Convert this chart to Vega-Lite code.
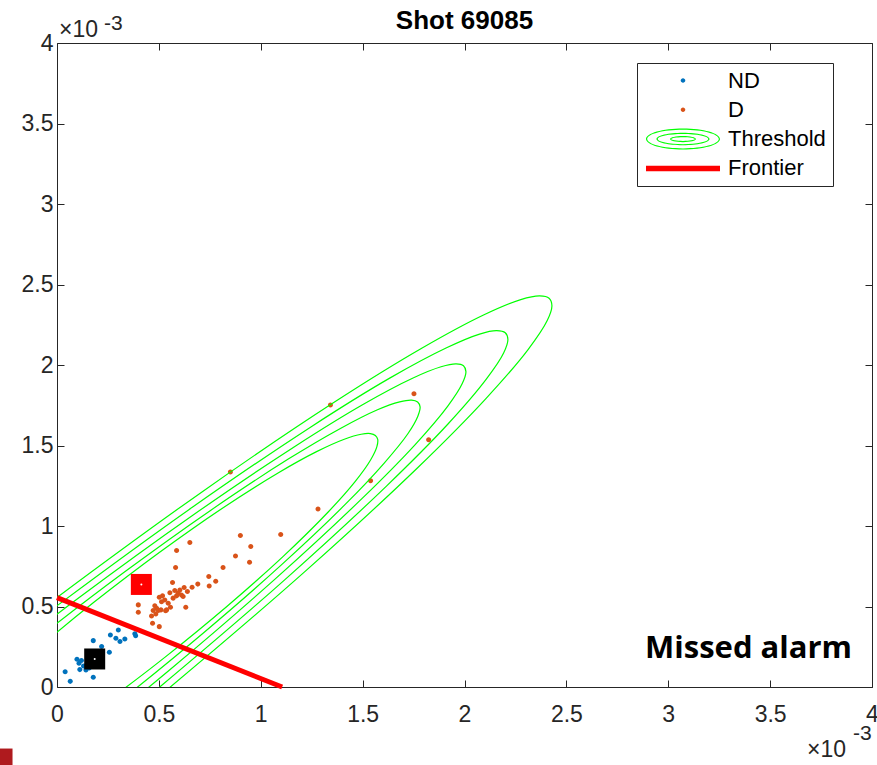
{
  "$schema": "https://vega.github.io/schema/vega-lite/v6.json",
  "width": 815,
  "height": 644,
  "autosize": {"type": "none"},
  "padding": {"left": 57, "top": 43, "right": 5, "bottom": 78},
  "background": "white",
  "title": {"text": "Shot 69085", "font": "Liberation Sans", "fontSize": 26, "fontWeight": "bold", "color": "#000000", "anchor": "middle", "offset": 8, "dy": 29},
  "config": {"view": {"stroke": null}, "axis": {"grid": false}, "font": "Liberation Sans"},
  "resolve": {"axis": {"x": "independent", "y": "independent"}},
  "datasets": {
    "points": [
      {"series": "ND", "x": 0.040, "y": 0.095}, {"series": "ND", "x": 0.065, "y": 0.035}, {"series": "ND", "x": 0.098, "y": 0.172},
      {"series": "ND", "x": 0.108, "y": 0.147}, {"series": "ND", "x": 0.120, "y": 0.165}, {"series": "ND", "x": 0.112, "y": 0.108},
      {"series": "ND", "x": 0.130, "y": 0.130}, {"series": "ND", "x": 0.148, "y": 0.143}, {"series": "ND", "x": 0.142, "y": 0.105},
      {"series": "ND", "x": 0.158, "y": 0.118}, {"series": "ND", "x": 0.178, "y": 0.288}, {"series": "ND", "x": 0.178, "y": 0.060},
      {"series": "ND", "x": 0.219, "y": 0.251}, {"series": "ND", "x": 0.257, "y": 0.216}, {"series": "ND", "x": 0.262, "y": 0.323},
      {"series": "ND", "x": 0.289, "y": 0.303}, {"series": "ND", "x": 0.301, "y": 0.354}, {"series": "ND", "x": 0.309, "y": 0.282},
      {"series": "ND", "x": 0.333, "y": 0.298}, {"series": "ND", "x": 0.382, "y": 0.330}, {"series": "ND", "x": 0.386, "y": 0.318},
      {"series": "ND", "x": 0.170, "y": 0.150}, {"series": "ND", "x": 0.190, "y": 0.190}, {"series": "ND", "x": 0.200, "y": 0.160},
      {"series": "ND", "x": 0.165, "y": 0.200},
      {"series": "D", "x": 0.900, "y": 0.941}, {"series": "D", "x": 1.098, "y": 0.947}, {"series": "D", "x": 0.652, "y": 0.897},
      {"series": "D", "x": 0.951, "y": 0.873}, {"series": "D", "x": 0.587, "y": 0.848}, {"series": "D", "x": 0.876, "y": 0.813},
      {"series": "D", "x": 0.945, "y": 0.775}, {"series": "D", "x": 0.582, "y": 0.742}, {"series": "D", "x": 0.815, "y": 0.742},
      {"series": "D", "x": 0.745, "y": 0.686}, {"series": "D", "x": 0.779, "y": 0.657}, {"series": "D", "x": 0.567, "y": 0.649},
      {"series": "D", "x": 0.747, "y": 0.628}, {"series": "D", "x": 0.691, "y": 0.639}, {"series": "D", "x": 0.663, "y": 0.620},
      {"series": "D", "x": 0.640, "y": 0.593}, {"series": "D", "x": 0.624, "y": 0.618}, {"series": "D", "x": 0.554, "y": 0.586},
      {"series": "D", "x": 0.578, "y": 0.599}, {"series": "D", "x": 0.595, "y": 0.583}, {"series": "D", "x": 0.603, "y": 0.603},
      {"series": "D", "x": 0.611, "y": 0.572}, {"series": "D", "x": 0.587, "y": 0.566}, {"series": "D", "x": 0.570, "y": 0.552},
      {"series": "D", "x": 0.619, "y": 0.562}, {"series": "D", "x": 0.502, "y": 0.558}, {"series": "D", "x": 0.513, "y": 0.530},
      {"series": "D", "x": 0.529, "y": 0.541}, {"series": "D", "x": 0.546, "y": 0.520}, {"series": "D", "x": 0.538, "y": 0.479},
      {"series": "D", "x": 0.557, "y": 0.496}, {"series": "D", "x": 0.480, "y": 0.504}, {"series": "D", "x": 0.489, "y": 0.489},
      {"series": "D", "x": 0.472, "y": 0.475}, {"series": "D", "x": 0.497, "y": 0.475}, {"series": "D", "x": 0.485, "y": 0.454},
      {"series": "D", "x": 0.510, "y": 0.479}, {"series": "D", "x": 0.518, "y": 0.566}, {"series": "D", "x": 0.399, "y": 0.510},
      {"series": "D", "x": 0.399, "y": 0.464}, {"series": "D", "x": 0.464, "y": 0.441}, {"series": "D", "x": 0.632, "y": 0.496},
      {"series": "D", "x": 0.533, "y": 0.473}, {"series": "D", "x": 0.469, "y": 0.396}, {"series": "D", "x": 0.502, "y": 0.375},
      {"series": "D", "x": 0.851, "y": 1.335}, {"series": "D", "x": 1.342, "y": 1.752}, {"series": "D", "x": 1.539, "y": 1.281},
      {"series": "D", "x": 1.281, "y": 1.105}, {"series": "D", "x": 1.752, "y": 1.822}, {"series": "D", "x": 1.824, "y": 1.536}
    ],
    "contours": [
      {"c": "k1", "o": 1, "x": -0.520, "y": 0.055}, {"c": "k1", "o": 2, "x": -0.013, "y": 0.544}, {"c": "k1", "o": 3, "x": 0.715, "y": 1.215},
      {"c": "k1", "o": 4, "x": 1.362, "y": 1.770}, {"c": "k1", "o": 5, "x": 1.790, "y": 2.104}, {"c": "k1", "o": 6, "x": 2.096, "y": 2.312},
      {"c": "k1", "o": 7, "x": 2.276, "y": 2.406}, {"c": "k1", "o": 8, "x": 2.369, "y": 2.429}, {"c": "k1", "o": 9, "x": 2.415, "y": 2.415},
      {"c": "k1", "o": 10, "x": 2.429, "y": 2.369}, {"c": "k1", "o": 11, "x": 2.406, "y": 2.276}, {"c": "k1", "o": 12, "x": 2.312, "y": 2.096},
      {"c": "k1", "o": 13, "x": 2.104, "y": 1.790}, {"c": "k1", "o": 14, "x": 1.770, "y": 1.362}, {"c": "k1", "o": 15, "x": 1.215, "y": 0.715},
      {"c": "k1", "o": 16, "x": 0.544, "y": -0.013}, {"c": "k1", "o": 17, "x": 0.055, "y": -0.520},
      {"c": "k2", "o": 1, "x": -0.452, "y": 0.068}, {"c": "k2", "o": 2, "x": 0.006, "y": 0.510}, {"c": "k2", "o": 3, "x": 0.664, "y": 1.116},
      {"c": "k2", "o": 4, "x": 1.248, "y": 1.617}, {"c": "k2", "o": 5, "x": 1.635, "y": 1.920}, {"c": "k2", "o": 6, "x": 1.912, "y": 2.107},
      {"c": "k2", "o": 7, "x": 2.074, "y": 2.192}, {"c": "k2", "o": 8, "x": 2.158, "y": 2.213}, {"c": "k2", "o": 9, "x": 2.200, "y": 2.200},
      {"c": "k2", "o": 10, "x": 2.213, "y": 2.158}, {"c": "k2", "o": 11, "x": 2.192, "y": 2.074}, {"c": "k2", "o": 12, "x": 2.107, "y": 1.912},
      {"c": "k2", "o": 13, "x": 1.920, "y": 1.635}, {"c": "k2", "o": 14, "x": 1.617, "y": 1.248}, {"c": "k2", "o": 15, "x": 1.116, "y": 0.664},
      {"c": "k2", "o": 16, "x": 0.510, "y": 0.006}, {"c": "k2", "o": 17, "x": 0.068, "y": -0.452},
      {"c": "k3", "o": 1, "x": -0.486, "y": -0.024}, {"c": "k3", "o": 2, "x": 0.104, "y": 0.551}, {"c": "k3", "o": 3, "x": 0.670, "y": 1.070},
      {"c": "k3", "o": 4, "x": 1.173, "y": 1.499}, {"c": "k3", "o": 5, "x": 1.506, "y": 1.758}, {"c": "k3", "o": 6, "x": 1.745, "y": 1.918},
      {"c": "k3", "o": 7, "x": 1.885, "y": 1.989}, {"c": "k3", "o": 8, "x": 1.959, "y": 2.007}, {"c": "k3", "o": 9, "x": 1.995, "y": 1.995},
      {"c": "k3", "o": 10, "x": 2.007, "y": 1.959}, {"c": "k3", "o": 11, "x": 1.989, "y": 1.885}, {"c": "k3", "o": 12, "x": 1.918, "y": 1.745},
      {"c": "k3", "o": 13, "x": 1.758, "y": 1.506}, {"c": "k3", "o": 14, "x": 1.499, "y": 1.173}, {"c": "k3", "o": 15, "x": 1.070, "y": 0.670},
      {"c": "k3", "o": 16, "x": 0.551, "y": 0.104}, {"c": "k3", "o": 17, "x": -0.024, "y": -0.486},
      {"c": "k4", "o": 1, "x": -0.401, "y": -0.011}, {"c": "k4", "o": 2, "x": -0.112, "y": 0.285}, {"c": "k4", "o": 3, "x": 0.331, "y": 0.714},
      {"c": "k4", "o": 4, "x": 0.757, "y": 1.100}, {"c": "k4", "o": 5, "x": 1.137, "y": 1.417}, {"c": "k4", "o": 6, "x": 1.391, "y": 1.606},
      {"c": "k4", "o": 7, "x": 1.573, "y": 1.722}, {"c": "k4", "o": 8, "x": 1.682, "y": 1.771}, {"c": "k4", "o": 9, "x": 1.740, "y": 1.782},
      {"c": "k4", "o": 10, "x": 1.770, "y": 1.770}, {"c": "k4", "o": 11, "x": 1.782, "y": 1.740}, {"c": "k4", "o": 12, "x": 1.771, "y": 1.682},
      {"c": "k4", "o": 13, "x": 1.722, "y": 1.573}, {"c": "k4", "o": 14, "x": 1.606, "y": 1.391}, {"c": "k4", "o": 15, "x": 1.417, "y": 1.137},
      {"c": "k4", "o": 16, "x": 1.100, "y": 0.757}, {"c": "k4", "o": 17, "x": 0.714, "y": 0.331}, {"c": "k4", "o": 18, "x": 0.285, "y": -0.112},
      {"c": "k4", "o": 19, "x": -0.011, "y": -0.401},
      {"c": "k5", "o": 1, "x": -0.310, "y": 0.003}, {"c": "k5", "o": 2, "x": -0.023, "y": 0.316}, {"c": "k5", "o": 3, "x": 0.184, "y": 0.529},
      {"c": "k5", "o": 4, "x": 0.502, "y": 0.835}, {"c": "k5", "o": 5, "x": 0.810, "y": 1.109}, {"c": "k5", "o": 6, "x": 1.087, "y": 1.331},
      {"c": "k5", "o": 7, "x": 1.274, "y": 1.462}, {"c": "k5", "o": 8, "x": 1.410, "y": 1.539}, {"c": "k5", "o": 9, "x": 1.493, "y": 1.570},
      {"c": "k5", "o": 10, "x": 1.538, "y": 1.574}, {"c": "k5", "o": 11, "x": 1.5625, "y": 1.5625}, {"c": "k5", "o": 12, "x": 1.574, "y": 1.538},
      {"c": "k5", "o": 13, "x": 1.570, "y": 1.493}, {"c": "k5", "o": 14, "x": 1.539, "y": 1.410}, {"c": "k5", "o": 15, "x": 1.462, "y": 1.274},
      {"c": "k5", "o": 16, "x": 1.331, "y": 1.087}, {"c": "k5", "o": 17, "x": 1.109, "y": 0.810}, {"c": "k5", "o": 18, "x": 0.835, "y": 0.502},
      {"c": "k5", "o": 19, "x": 0.529, "y": 0.184}, {"c": "k5", "o": 20, "x": 0.316, "y": -0.023}, {"c": "k5", "o": 21, "x": 0.003, "y": -0.310}
    ],
    "frontier": [{"o": 1, "x": 0, "y": 0.555}, {"o": 2, "x": 1.105, "y": 0}],
    "centroids": [{"kind": "D", "x": 0.414, "y": 0.637}, {"kind": "ND", "x": 0.185, "y": 0.174}]
  },
  "layer": [
    {
      "data": {"name": "points"},
      "mark": {"type": "point", "filled": true, "size": 125, "opacity": 1, "strokeWidth": 0},
      "encoding": {
        "x": {"field": "x", "type": "quantitative", "scale": {"domain": [0, 4], "nice": false, "zero": false},
          "axis": {"orient": "bottom", "values": [0, 0.5, 1, 1.5, 2, 2.5, 3, 3.5, 4], "format": "~g", "title": null, "grid": false, "domainColor": "#262626", "domainWidth": 1, "tickColor": "#262626", "tickWidth": 1, "tickSize": -7, "labelPadding": 23, "labelFlush": false, "labelOverlap": false, "labelFont": "Liberation Sans", "labelFontSize": 23, "labelColor": "#262626"}},
        "y": {"field": "y", "type": "quantitative", "scale": {"domain": [0, 4], "nice": false, "zero": false},
          "axis": {"orient": "left", "values": [0, 0.5, 1, 1.5, 2, 2.5, 3, 3.5, 4], "format": "~g", "title": null, "grid": false, "domainColor": "#262626", "domainWidth": 1, "tickColor": "#262626", "tickWidth": 1, "tickSize": -7, "labelPadding": 11, "labelFlush": false, "labelOverlap": false, "labelFont": "Liberation Sans", "labelFontSize": 23, "labelColor": "#262626"}},
        "color": {"field": "series", "type": "nominal",
          "scale": {"domain": ["ND", "D", "Threshold", "Frontier"], "range": ["#0072BD", "#D95319", "#00FF00", "#FF0000"]},
          "legend": {"orient": "none", "legendX": 580, "legendY": 20, "title": null, "padding": 6.5, "rowPadding": 7.3, "symbolSize": 100, "symbolOffset": 28.5, "labelOffset": 34, "labelFont": "Liberation Sans", "labelFontSize": 22, "labelColor": "#000000", "strokeColor": "#262626", "fillColor": "#ffffff", "gridAlign": "all", "symbolStrokeWidth": 0, "labelLimit": 0}},
        "shape": {"field": "series", "type": "nominal",
          "scale": {"domain": ["ND", "D", "Threshold", "Frontier"], "range": [
            "M -7.9 -2.2 M 7.9 2.2 M 0.45 0 A 0.45 0.45 0 1 1 -0.45 0 A 0.45 0.45 0 1 1 0.45 0 Z",
            "M -7.9 -2.2 M 7.9 2.2 M 0.45 0 A 0.45 0.45 0 1 1 -0.45 0 A 0.45 0.45 0 1 1 0.45 0 Z",
            "M -7.9 -2.2 M 7.9 2.2 M -7.4 0 A 7.4 2.1 0 1 1 7.4 0 A 7.4 2.1 0 1 1 -7.4 0 Z M -7.16 0 A 7.16 1.86 0 1 0 7.16 0 A 7.16 1.86 0 1 0 -7.16 0 Z M -5.3 0 A 5.3 1.25 0 1 1 5.3 0 A 5.3 1.25 0 1 1 -5.3 0 Z M -5.06 0 A 5.06 1.01 0 1 0 5.06 0 A 5.06 1.01 0 1 0 -5.06 0 Z M -2.6 0 A 2.6 0.62 0 1 1 2.6 0 A 2.6 0.62 0 1 1 -2.6 0 Z M -2.36 0 A 2.36 0.38 0 1 0 2.36 0 A 2.36 0.38 0 1 0 -2.36 0 Z",
            "M -7.9 -2.2 M 7.9 2.2 M -7.4 -0.55 L 7.4 -0.55 L 7.4 0.55 L -7.4 0.55 Z"]},
          "legend": {"orient": "none", "legendX": 580, "legendY": 20, "title": null, "padding": 6.5, "rowPadding": 7.3, "symbolSize": 100, "symbolOffset": 28.5, "labelOffset": 34, "labelFont": "Liberation Sans", "labelFontSize": 22, "labelColor": "#000000", "strokeColor": "#262626", "fillColor": "#ffffff", "gridAlign": "all", "symbolStrokeWidth": 0, "labelLimit": 0}}
      }
    },
    {
      "data": {"name": "contours"},
      "mark": {"type": "line", "color": "#00FF00", "strokeWidth": 1.2, "interpolate": "catmull-rom", "clip": true},
      "encoding": {
        "x": {"field": "x", "type": "quantitative",
          "axis": {"orient": "top", "values": [0, 0.5, 1, 1.5, 2, 2.5, 3, 3.5, 4], "labels": false, "title": null, "grid": false, "domainColor": "#262626", "domainWidth": 1, "tickColor": "#262626", "tickWidth": 1, "tickSize": -7}},
        "y": {"field": "y", "type": "quantitative",
          "axis": {"orient": "right", "values": [0, 0.5, 1, 1.5, 2, 2.5, 3, 3.5, 4], "labels": false, "title": null, "grid": false, "domainColor": "#262626", "domainWidth": 1, "tickColor": "#262626", "tickWidth": 1, "tickSize": -7}},
        "detail": {"field": "c", "type": "nominal"},
        "order": {"field": "o", "type": "quantitative"}
      }
    },
    {
      "data": {"name": "frontier"},
      "mark": {"type": "line", "color": "#FF0000", "strokeWidth": 5},
      "encoding": {
        "x": {"field": "x", "type": "quantitative", "axis": null},
        "y": {"field": "y", "type": "quantitative", "axis": null},
        "order": {"field": "o", "type": "quantitative"}
      }
    },
    {
      "data": {"name": "centroids"},
      "mark": {"type": "point", "shape": "square", "filled": true, "size": 441, "opacity": 1, "strokeWidth": 0},
      "encoding": {
        "x": {"field": "x", "type": "quantitative", "axis": null},
        "y": {"field": "y", "type": "quantitative", "axis": null},
        "fill": {"field": "kind", "type": "nominal", "scale": {"domain": ["D", "ND"], "range": ["#FF0000", "#000000"]}, "legend": null}
      }
    },
    {
      "data": {"name": "centroids"},
      "mark": {"type": "point", "shape": "circle", "filled": true, "size": 4, "color": "#ffffff", "opacity": 1, "strokeWidth": 0},
      "encoding": {
        "x": {"field": "x", "type": "quantitative", "axis": null},
        "y": {"field": "y", "type": "quantitative", "axis": null}
      }
    },
    {
      "data": {"values": [{"note": "Missed alarm"}]},
      "mark": {"type": "text", "font": "Open Sans", "fontWeight": "bold", "fontSize": 31, "color": "#000000", "align": "right", "baseline": "alphabetic", "dx": -20, "dy": -29},
      "encoding": {
        "x": {"datum": 4, "type": "quantitative", "axis": null},
        "y": {"datum": 0, "type": "quantitative", "axis": null},
        "text": {"field": "note"}
      }
    },
    {
      "data": {"values": [{"t": "×10"}]},
      "mark": {"type": "text", "font": "Liberation Sans", "fontSize": 23, "color": "#262626", "align": "left", "baseline": "alphabetic", "dx": 2, "dy": -6},
      "encoding": {
        "x": {"datum": 0, "type": "quantitative", "axis": null},
        "y": {"datum": 4, "type": "quantitative", "axis": null},
        "text": {"field": "t"}
      }
    },
    {
      "data": {"values": [{"t": "-3"}]},
      "mark": {"type": "text", "font": "Liberation Sans", "fontSize": 21, "color": "#262626", "align": "left", "baseline": "alphabetic", "dx": 47, "dy": -13},
      "encoding": {
        "x": {"datum": 0, "type": "quantitative", "axis": null},
        "y": {"datum": 4, "type": "quantitative", "axis": null},
        "text": {"field": "t"}
      }
    },
    {
      "data": {"values": [{"t": "×10"}]},
      "mark": {"type": "text", "font": "Liberation Sans", "fontSize": 23, "color": "#262626", "align": "left", "baseline": "alphabetic", "dx": -65, "dy": 70},
      "encoding": {
        "x": {"datum": 4, "type": "quantitative", "axis": null},
        "y": {"datum": 0, "type": "quantitative", "axis": null},
        "text": {"field": "t"}
      }
    },
    {
      "data": {"values": [{"t": "-3"}]},
      "mark": {"type": "text", "font": "Liberation Sans", "fontSize": 21, "color": "#262626", "align": "left", "baseline": "alphabetic", "dx": -19, "dy": 53},
      "encoding": {
        "x": {"datum": 4, "type": "quantitative", "axis": null},
        "y": {"datum": 0, "type": "quantitative", "axis": null},
        "text": {"field": "t"}
      }
    },
    {
      "data": {"values": [{"item": "slide marker"}]},
      "mark": {"type": "point", "shape": "square", "filled": true, "size": 289, "color": "#AF1A1E", "opacity": 1, "strokeWidth": 0},
      "encoding": {
        "x": {"datum": -0.26, "type": "quantitative", "axis": null},
        "y": {"datum": -0.435, "type": "quantitative", "axis": null}
      }
    }
  ]
}
